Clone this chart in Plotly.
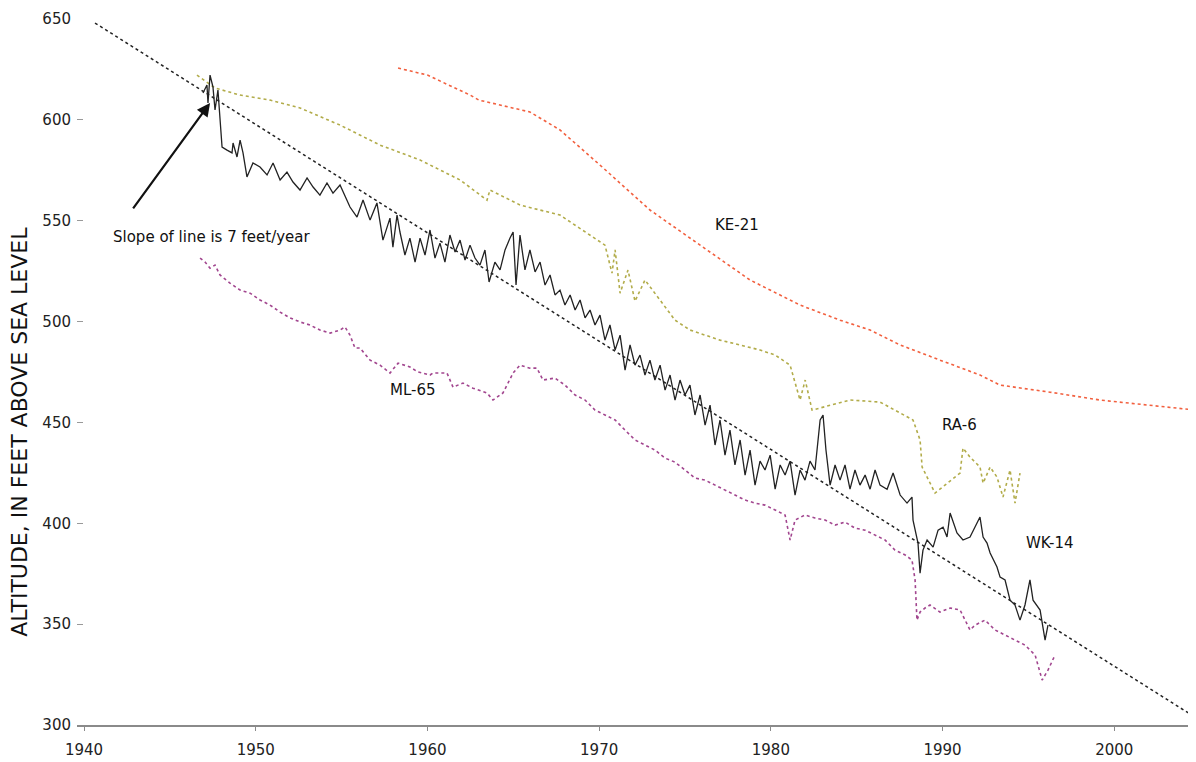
import plotly.graph_objects as go

# ---------------- data (decimal year, altitude in feet) ----------------
trend_year = [1940.64, 2004.70]
trend_alt = [648.0, 303.9]

ke21_year = [1958.29, 1960.0, 1962.48, 1963.0, 1965.97, 1967.72, 1970.05, 1972.96,
             1975.88, 1978.79, 1981.70, 1984.03, 1985.78, 1987.53, 1989.85, 1992.18,
             1993.35, 1996.26, 1999.17, 2002.08, 2004.76]
ke21_alt = [625.7, 622.2, 612.3, 609.8, 603.9, 595.0, 577.6, 555.3,
            537.9, 520.6, 508.2, 500.7, 495.8, 488.4, 480.9, 473.5,
            468.5, 465.0, 461.1, 458.6, 456.1]

ra6_year = [1946.58, 1947.63, 1949.08, 1950.83, 1952.58, 1954.91, 1957.24, 1959.57,
            1961.90, 1963.47, 1963.64, 1965.39, 1967.72, 1969.47, 1970.34, 1970.75,
            1970.93, 1971.22, 1971.68, 1972.09, 1972.67, 1973.55, 1974.42, 1975.29,
            1977.04, 1978.21, 1979.37, 1980.25, 1981.12, 1981.70, 1982.0, 1982.40,
            1983.45, 1984.61, 1986.36, 1987.23, 1988.28, 1988.69, 1988.81, 1989.10,
            1989.56, 1991.02, 1991.19, 1991.60, 1992.18, 1992.36, 1992.77, 1993.17,
            1993.52, 1993.93, 1994.22, 1994.51]
ra6_alt = [622.2, 615.8, 612.3, 609.8, 605.9, 597.4, 587.5, 580.1,
           570.2, 560.2, 565.2, 557.8, 552.8, 542.9, 537.9, 524.0,
           535.5, 514.1, 525.5, 510.1, 520.6, 510.6, 500.7, 495.8,
           490.8, 488.4, 485.9, 483.4, 478.4, 461.1, 471.0, 456.1,
           458.6, 461.1, 460.1, 456.1, 451.2, 441.3, 427.9, 422.9,
           415.0, 424.9, 437.3, 432.8, 427.9, 419.9, 427.9, 422.9,
           413.0, 426.4, 410.0, 424.9]

wk14_year = [1946.93, 1947.16, 1947.22, 1947.34, 1947.51, 1947.63, 1947.80, 1947.92,
             1948.04, 1948.33, 1948.62, 1948.68, 1948.91, 1949.09, 1949.26, 1949.49,
             1949.84, 1950.25, 1950.66, 1951.01, 1951.42, 1951.82, 1952.17, 1952.58,
             1952.99, 1953.34, 1953.74, 1954.15, 1954.50, 1954.91, 1955.49, 1955.90,
             1956.25, 1956.66, 1957.06, 1957.41, 1957.82, 1957.99, 1958.23, 1958.40,
             1958.69, 1958.98, 1959.28, 1959.57, 1959.86, 1960.15, 1960.44, 1960.73,
             1961.02, 1961.31, 1961.61, 1961.90, 1962.19, 1962.48, 1962.77, 1963.06,
             1963.35, 1963.59, 1963.93, 1964.23, 1964.52, 1964.81, 1964.99, 1965.16,
             1965.39, 1965.68, 1965.97, 1966.27, 1966.56, 1966.85, 1967.14, 1967.43,
             1967.72, 1968.01, 1968.31, 1968.60, 1968.89, 1969.18, 1969.47, 1969.76,
             1970.05, 1970.34, 1970.63, 1970.93, 1971.22, 1971.51, 1971.80, 1972.09,
             1972.38, 1972.67, 1972.96, 1973.25, 1973.55, 1973.84, 1974.13, 1974.42,
             1974.71, 1975.00, 1975.29, 1975.58, 1975.88, 1976.17, 1976.46, 1976.75,
             1977.04, 1977.33, 1977.62, 1977.91, 1978.21, 1978.50, 1978.79, 1979.08,
             1979.37, 1979.66, 1979.96, 1980.25, 1980.54, 1980.83, 1981.12, 1981.41,
             1981.70, 1981.99, 1982.28, 1982.57, 1982.87, 1983.04, 1983.21, 1983.45,
             1983.74, 1984.03, 1984.32, 1984.61, 1984.90, 1985.19, 1985.49, 1985.78,
             1986.07, 1986.36, 1986.77, 1987.12, 1987.53, 1987.93, 1988.22, 1988.28,
             1988.57, 1988.69, 1988.86, 1989.10, 1989.45, 1989.74, 1990.03, 1990.26,
             1990.44, 1990.84, 1991.19, 1991.60, 1992.01, 1992.18, 1992.36, 1992.59,
             1992.77, 1993.17, 1993.35, 1993.64, 1993.93, 1994.22, 1994.51, 1994.80,
             1995.09, 1995.27, 1995.68, 1995.97, 1996.14]
wk14_alt = [613.3, 617.3, 608.4, 622.2, 616.3, 604.9, 614.8, 601.4,
            586.5, 585.0, 583.6, 588.5, 581.6, 590.0, 583.6, 571.7,
            578.6, 576.6, 572.7, 578.6, 570.2, 574.1, 569.2, 565.2,
            571.2, 566.7, 562.7, 568.7, 563.7, 567.7, 556.8, 551.8,
            560.3, 550.3, 558.8, 540.4, 551.3, 536.9, 552.8, 544.4,
            533.0, 541.4, 529.5, 541.4, 533.0, 545.4, 531.5, 538.9,
            529.5, 542.9, 534.5, 540.4, 530.5, 537.9, 531.5, 528.0,
            535.5, 519.6, 529.5, 525.6, 535.5, 541.4, 544.4, 518.1,
            542.9, 525.6, 535.5, 524.6, 529.5, 518.1, 523.1, 513.2,
            515.6, 508.2, 513.2, 505.7, 510.7, 501.8, 505.7, 498.3,
            503.2, 490.8, 498.3, 485.9, 493.3, 475.9, 488.4, 478.4,
            483.4, 473.5, 480.9, 471.0, 478.4, 466.0, 473.5, 461.1,
            471.0, 463.6, 468.5, 453.7, 463.6, 448.7, 458.6, 438.8,
            451.2, 433.8, 446.2, 428.9, 441.3, 423.9, 436.3, 418.9,
            430.8, 426.4, 433.8, 416.9, 428.9, 423.9, 430.8, 414.0,
            426.4, 421.4, 430.8, 426.4, 451.2, 453.7, 436.3, 418.9,
            428.9, 421.4, 428.9, 416.9, 426.4, 418.9, 423.9, 416.9,
            426.4, 418.9, 416.9, 424.9, 414.0, 410.0, 413.0, 401.6,
            390.2, 375.3, 386.7, 391.7, 388.2, 396.6, 398.1, 393.2,
            405.1, 395.2, 391.7, 393.2, 400.1, 403.1, 393.2, 390.2,
            385.3, 378.3, 373.3, 371.9, 361.9, 359.5, 352.0, 359.5,
            371.9, 361.9, 357.0, 342.1, 349.5]

ml65_year = [1946.76, 1947.05, 1947.34, 1947.63, 1947.92, 1948.50, 1949.09, 1949.67,
             1950.25, 1950.83, 1951.42, 1952.00, 1952.58, 1953.16, 1953.74, 1954.33,
             1954.91, 1955.20, 1955.49, 1955.78, 1956.07, 1956.66, 1957.24, 1957.82,
             1958.29, 1958.98, 1959.45, 1960.15, 1960.33, 1961.14, 1961.49, 1962.07,
             1962.65, 1963.47, 1963.82, 1964.40, 1964.99, 1965.39, 1965.97, 1966.38,
             1966.73, 1967.43, 1968.01, 1968.60, 1969.18, 1969.76, 1970.34, 1970.93,
             1971.51, 1972.09, 1972.67, 1973.25, 1973.84, 1974.42, 1975.00, 1975.58,
             1976.17, 1976.75, 1977.33, 1977.91, 1978.50, 1979.08, 1979.66, 1980.25,
             1980.83, 1981.12, 1981.41, 1981.99, 1982.57, 1983.16, 1983.74, 1984.32,
             1984.90, 1985.49, 1986.07, 1986.65, 1987.23, 1987.82, 1988.22, 1988.40,
             1988.51, 1988.69, 1988.98, 1989.27, 1989.85, 1990.44, 1991.02, 1991.60,
             1991.89, 1992.47, 1993.06, 1993.64, 1994.22, 1994.80, 1995.39, 1995.80,
             1996.14, 1996.55]
ml65_alt = [531.5, 529.5, 526.5, 528.0, 523.1, 519.1, 515.6, 514.1,
            510.7, 508.2, 504.7, 501.8, 499.8, 498.3, 495.8, 494.3,
            495.8, 497.3, 493.3, 486.9, 486.9, 480.9, 478.4, 474.5,
            479.4, 477.5, 475.0, 473.5, 474.5, 474.5, 467.5, 469.5,
            467.0, 464.6, 461.1, 464.6, 474.5, 478.4, 476.9, 476.9,
            471.0, 472.0, 468.5, 463.6, 461.1, 456.1, 453.7, 451.2,
            446.2, 441.3, 438.8, 436.3, 432.3, 430.3, 426.4, 422.4,
            421.4, 418.9, 416.5, 414.0, 411.5, 410.0, 409.0, 406.6,
            404.1, 391.7, 401.6, 404.1, 402.6, 401.6, 399.1, 400.6,
            397.6, 396.6, 394.2, 391.7, 386.7, 384.3, 381.8, 371.9,
            352.0, 356.0, 358.0, 359.5, 356.0, 358.0, 357.0, 347.1,
            349.5, 352.0, 347.1, 344.6, 342.1, 339.6, 334.7, 322.3,
            327.2, 334.7]

x_tick_vals = [1940, 1950, 1960, 1970, 1980, 1990, 2000]
x_tick_text = ["1940", "1950", "1960", "1970", "1980", "1990", "2000"]
y_tick_vals = [300, 350, 400, 450, 500, 550, 600, 650]

series_labels = [("KE-21", 1978.03, 547.9), ("RA-6", 1991.01, 448.7),
                 ("WK-14", 1996.26, 390.2), ("ML-65", 1959.16, 466.0)]

FONT = "DejaVu Sans, Liberation Sans, sans-serif"

fig = go.Figure()
fig.add_trace(go.Scatter(x=trend_year, y=trend_alt, mode="lines",
                         line=dict(color="#222222", width=1.5, dash="dot"), showlegend=False))
fig.add_trace(go.Scatter(x=ke21_year, y=ke21_alt, mode="lines",
                         line=dict(color="#F2603F", width=1.6, dash="dot"), showlegend=False))
fig.add_trace(go.Scatter(x=ra6_year, y=ra6_alt, mode="lines",
                         line=dict(color="#B2AC4A", width=1.6, dash="dot"), showlegend=False))
fig.add_trace(go.Scatter(x=ml65_year, y=ml65_alt, mode="lines",
                         line=dict(color="#A2468F", width=1.6, dash="dot"), showlegend=False))
fig.add_trace(go.Scatter(x=wk14_year, y=wk14_alt, mode="lines",
                         line=dict(color="#222222", width=1.3), showlegend=False))

for name, xx, yy in series_labels:
    fig.add_annotation(x=xx, y=yy, text=name, showarrow=False,
                       font=dict(family=FONT, size=15, color="#111111"))

fig.add_annotation(x=1947.45, y=541.9, text="Slope of line is 7 feet/year", showarrow=False,
                   font=dict(family=FONT, size=15, color="#111111"))
fig.add_annotation(x=1947.34, y=608.4, ax=-78, ay=107, text="", showarrow=True,
                   arrowhead=2, arrowsize=1.2, arrowwidth=2.2, arrowcolor="#111111",
                   standoff=0)

fig.add_annotation(xref="paper", yref="paper", x=-0.052, y=0.415,
                   xanchor="center", yanchor="middle",
                   text="ALTITUDE, IN FEET ABOVE SEA LEVEL", textangle=-90, showarrow=False,
                   font=dict(family=FONT, size=22, color="#111111"))

# page body has an 8px default margin: shrink the figure so the plot area lands
# at the same screen position as the reference
fig.update_layout(
    width=1188, height=754,
    margin=dict(l=69, r=0, t=11, b=37),
    paper_bgcolor="white", plot_bgcolor="white",
    showlegend=False,
)
fig.update_xaxes(range=[1939.592, 2004.76], tickvals=x_tick_vals, ticktext=x_tick_text,
                 showgrid=False, zeroline=False, showline=True, linecolor="#8a8a8a",
                 linewidth=2, ticks="outside", ticklen=4, tickcolor="#8a8a8a",
                 ticklabelstandoff=6,
                 tickfont=dict(family=FONT, size=15, color="#222222"))
fig.update_yaxes(range=[300, 650], tickvals=y_tick_vals,
                 showgrid=False, zeroline=False, showline=False,
                 ticks="inside", ticklen=6, tickcolor="#999999",
                 ticklabelstandoff=5,
                 tickfont=dict(family=FONT, size=15, color="#222222"))

fig.write_html("out.html")
